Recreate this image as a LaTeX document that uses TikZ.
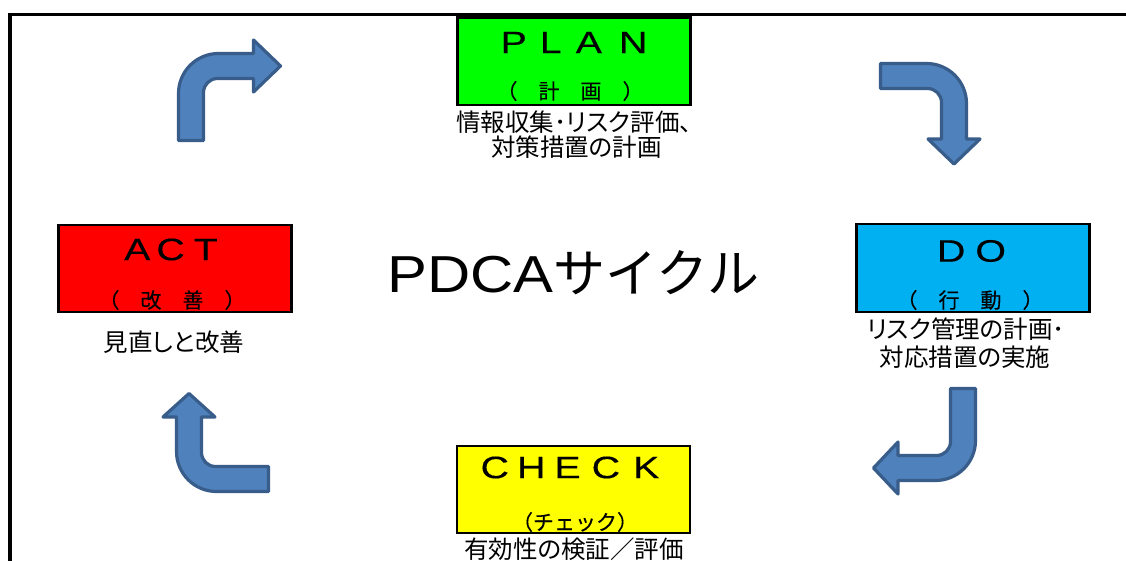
\documentclass[tikz,border=0pt]{standalone}
\usepackage{fontspec}
\setmainfont{Liberation Sans}
\newfontfamily\jpreg{Noto Sans CJK JP}
\newfontfamily\jpsub[FakeBold=0.3]{Noto Sans CJK JP}
\newfontfamily\jpprop[RawFeature=+palt]{Noto Sans CJK JP}
\newfontfamily\wideLat[FakeStretch=1.27,FakeBold=0.4]{Liberation Sans}
\newfontfamily\pdcaLat[FakeStretch=1.15]{Liberation Sans}
\definecolor{plang}{HTML}{00FF00}
\definecolor{doblue}{HTML}{00B0F0}
\definecolor{actred}{HTML}{FF0000}
\definecolor{chky}{HTML}{FFFF00}
\definecolor{arrfill}{HTML}{4F81BD}
\definecolor{arrline}{HTML}{385D8A}
\newcommand\bentarr[3]{%
  \path[barrow] (0,#1) -- (25,#1) -- (25,39)
    .. controls (25,31.27) and (31.27,25) .. (39,25)
    -- (#2,25) -- (#2,38.5) -- (#3,12.5) -- (#2,-13.5) -- (#2,0) -- (40,0)
    .. controls (17.9,0) and (0,17.9) .. (0,40) -- cycle;}
\begin{document}
\begin{tikzpicture}[x=1pt,y=-1pt,
  pbox/.style={draw=black, line width=2.4pt, minimum width=233pt, minimum height=87.5pt, inner sep=0pt},
  ttl/.style={inner sep=0pt, font=\wideLat\fontsize{31}{32}\selectfont},
  subt/.style={inner sep=0pt, font=\jpsub\fontsize{21}{22}\selectfont},
  note/.style={inner sep=0pt, font=\jpprop\fontsize{24.5}{26}\selectfont},
  barrow/.style={fill=arrfill, draw=arrline, line width=3.2pt, line join=round}]
\useasboundingbox (0,0) rectangle (1126,561);
\clip (0,0) rectangle (1126,561);
\fill[white] (0,0) rectangle (1126,561);
% frame
\draw[line width=3.3pt] (10,640) -- (10,14.3) -- (1160,14.3);
% boxes
\node[pbox, fill=plang] (plan) at (574,61.3) {};
\node[pbox, fill=doblue] (do) at (973,268) {};
\node[pbox, fill=actred] (act) at (175,268.5) {};
\node[pbox, fill=chky] (check) at (573.5,489.5) {};
% titles
\node[ttl] (plant) at (574,42.5) {P\hspace{13pt}L\hspace{14pt}A\hspace{17pt}N};
\node[ttl] (dot) at (971.5,251) {D\hspace{10pt}O};
\node[ttl] (actt) at (171,249.5) {A\hspace{6pt}C\hspace{9pt}T};
\node[ttl] (checkt) at (570,467.5) {C\hspace{8pt}H\hspace{9pt}E\hspace{11pt}C\hspace{13pt}K};
% subtitles
\node[subt] (plans) at (570,91) {（　計　画　）};
\node[subt] (dos) at (970,300) {（　行　動　）};
\node[subt] (acts) at (172,300) {（　改　善　）};
\node[subt] (checks) at (575,522) {（チェック）};
% notes
\node[note] (plann1) at (574,122) {情報収集･リスク評価、};
\node[note] (plann2) at (576.5,147) {対策措置の計画};
\node[note] (don1) at (966,329) {リスク管理の計画･};
\node[note] (don2) at (965,357.5) {対応措置の実施};
\node[note] (actn) at (174,342.5) {見直しと改善};
\node[note] (checkn) at (574,549) {有効性の検証／評価};
% centre title
\node[inner sep=0pt, anchor=base west] (pdca) at (387.4,292)
  {{\pdcaLat\fontsize{52}{54}\selectfont PDCA}{\jpreg\fontsize{52}{54}\selectfont サイクル}};
% bent arrows
\begin{scope}[shift={(178.5,53.5)}]\bentarr{87}{75}{102}\end{scope}
\begin{scope}[shift={(966.5,63.5)},rotate=-90]\bentarr{86}{75.5}{100.5}\end{scope}
\begin{scope}[shift={(975.5,480.5)},rotate=180]\bentarr{92}{77.5}{102}\end{scope}
\begin{scope}[shift={(176.5,491.5)},rotate=90]\bentarr{92}{74.5}{98}\end{scope}
\end{tikzpicture}
\end{document}
